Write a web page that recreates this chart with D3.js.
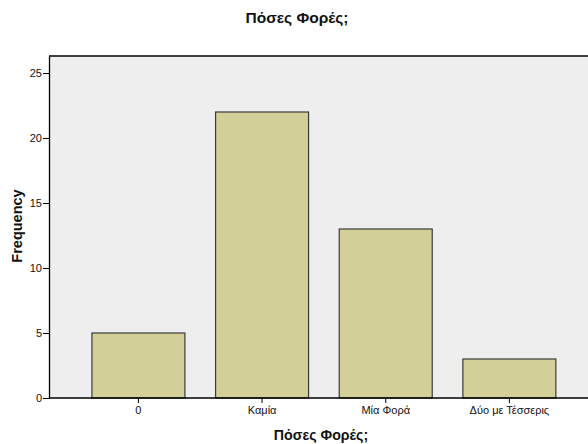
<!DOCTYPE html>
<html><head><meta charset="utf-8">
<script src="https://cdn.jsdelivr.net/npm/d3@7"></script>
<style>body{margin:0;background:#fff}svg{display:block}</style>
</head><body>
<script>
const categories = ["0", "Καμία", "Μία Φορά", "Δύο με Τέσσερις"];
const frequencies = [5, 22, 13, 3];
const yTicks = [0, 5, 10, 15, 20, 25];
const title = "Πόσες Φορές;";
const xTitle = "Πόσες Φορές;";
const yTitle = "Frequency";

const W = 588, H = 444;
const plot = {left: 49, top: 56, right: 588, bottom: 398};
const svg = d3.select("body").append("svg").attr("width", W).attr("height", H)
  .style("font-family", "Liberation Sans, Arial, sans-serif");

svg.append("rect").attr("x", plot.left).attr("y", plot.top)
  .attr("width", plot.right - plot.left).attr("height", plot.bottom - plot.top)
  .attr("fill", "#eeeeee");

const y = d3.scaleLinear().domain([0, (plot.bottom - plot.top) / 13]).range([plot.bottom, plot.top]);
const x = d3.scaleBand().domain(categories).range([76.6, 571.2]).paddingInner(0.248).paddingOuter(0.124);

svg.selectAll("rect.bar").data(frequencies).enter().append("rect")
  .attr("class", "bar")
  .attr("x", (d, i) => x(categories[i]))
  .attr("y", d => y(d))
  .attr("width", x.bandwidth())
  .attr("height", d => y(0) - y(d))
  .attr("fill", "#d3cf98")
  .attr("stroke", "#3a3a3a")
  .attr("stroke-width", 1.2);

// top border
svg.append("line").attr("x1", plot.left).attr("x2", plot.right).attr("y1", plot.top).attr("y2", plot.top)
  .attr("stroke", "#000").attr("stroke-width", 1.3);

const yAxis = d3.axisLeft(y).tickValues(yTicks).tickSize(6).tickSizeOuter(0).tickPadding(1);
const gy = svg.append("g").attr("transform", `translate(${plot.left},0)`).call(yAxis);
gy.select(".domain").attr("stroke", "#000").attr("stroke-width", 1.3);
gy.selectAll("text").attr("font-size", 11).attr("fill", "#111").attr("font-family", "Liberation Sans, Arial, sans-serif");

const xAxis = d3.axisBottom(x).tickSize(5).tickSizeOuter(0).tickPadding(3);
const gx = svg.append("g").attr("transform", `translate(0,${plot.bottom})`).call(xAxis);
gx.select(".domain").remove();
gx.selectAll("text").attr("font-size", 11).attr("fill", "#111").attr("font-family", "Liberation Sans, Arial, sans-serif");
svg.append("line").attr("x1", plot.left).attr("x2", plot.right).attr("y1", plot.bottom).attr("y2", plot.bottom)
  .attr("stroke", "#000").attr("stroke-width", 1.3);

svg.append("text").attr("x", 297).attr("y", 23).attr("text-anchor", "middle")
  .attr("font-size", 15.5).attr("font-weight", "bold").attr("fill", "#111").text(title);
svg.append("text").attr("x", 321).attr("y", 440).attr("text-anchor", "middle")
  .attr("font-size", 14.2).attr("font-weight", "bold").attr("fill", "#111").text(xTitle);
svg.append("text").attr("transform", `translate(22,226) rotate(-90)`).attr("text-anchor", "middle")
  .attr("font-size", 14.5).attr("font-weight", "bold").attr("fill", "#111").text(yTitle);
</script>
</body></html>
